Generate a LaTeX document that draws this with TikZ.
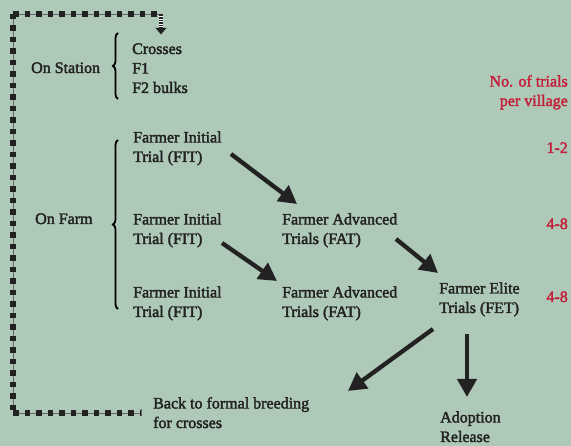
\documentclass[tikz,border=0pt]{standalone}
\usepackage{fontspec}
\setmainfont{Liberation Serif}[FakeBold=2.2]
\usetikzlibrary{arrows.meta,decorations.pathreplacing}
\definecolor{bg}{RGB}{174,201,183}
\definecolor{ink}{RGB}{34,34,34}
\definecolor{redtxt}{RGB}{196,32,60}
\begin{document}
\begin{tikzpicture}[x=1pt,y=-1pt,
  lbl/.style={inner sep=0pt, anchor=base west, align=left, text=ink, font=\fontsize{16}{19.5}\selectfont},
  num/.style={inner sep=0pt, anchor=base east, align=right, text=redtxt, font=\fontsize{16}{19.5}\selectfont},
  bigarrow/.style={line width=4.3pt, draw=ink, -{Triangle[length=18pt,width=19pt]}},
  bracestyle/.style={draw=black, line width=1.8pt, decorate, decoration={brace,amplitude=5pt}},
  feedback/.style={draw=ink, line width=5.5pt, dash pattern=on 5.5pt off 6pt},
  thinline/.style={draw=gray!80!black, line width=0.8pt}]
\fill[bg] (0,0) rectangle (571,446);
\useasboundingbox (0,0) rectangle (571,446);

% text nodes (anchored at the baseline of the last line)
\node[lbl] (onst) at (31,73) {On Station};
\node[lbl] (cross) at (132,93) {Crosses\\F1\\F2 bulks};
\node[lbl] (onfarm) at (35,224) {On Farm};
\node[lbl] (fit1) at (133,162) {Farmer Initial\\Trial (FIT)};
\node[lbl] (fit2) at (133,244) {Farmer Initial\\Trial (FIT)};
\node[lbl] (fit3) at (133,317) {Farmer Initial\\Trial (FIT)};
\node[lbl] (fat1) at (282,244) {Farmer Advanced\\Trials (FAT)};
\node[lbl] (fat2) at (282,317) {Farmer Advanced\\Trials (FAT)};
\node[lbl] (fet) at (439,313) {Farmer Elite\\Trials (FET)};
\node[lbl] (back) at (153,428) {Back to formal breeding\\for crosses};
\node[lbl] (adopt) at (440,442) {Adoption\\Release};

\node[num] (hdr) at (568,106) {No. of trials\\per village};
\node[num] (n1) at (568,153) {1-2};
\node[num] (n2) at (568,229) {4-8};
\node[num] (n3) at (568,302) {4-8};

% braces
\draw[bracestyle] (118,99) -- (118,33);
\draw[bracestyle] (118,309) -- (118,140);

% arrows
\coordinate (a1s) at (231,154); \coordinate (a1e) at (297,204);
\coordinate (a2s) at (222,243); \coordinate (a2e) at (277,281);
\coordinate (a3s) at (396,239); \coordinate (a3e) at (438,273);
\coordinate (a4s) at (433,329); \coordinate (a4e) at (348,391);
\coordinate (a5s) at (467,334); \coordinate (a5e) at (467,397);
\draw[bigarrow] (a1s) -- (a1e);
\draw[bigarrow] (a2s) -- (a2e);
\draw[bigarrow] (a3s) -- (a3e);
\draw[bigarrow] (a4s) -- (a4e);
\draw[bigarrow] (a5s) -- (a5e);

% feedback loop
\coordinate (fbA) at (161,14);
\coordinate (fbB) at (13,14);
\coordinate (fbC) at (13,413);
\coordinate (fbD) at (141,413);
\draw[thinline] (fbA) -- (fbB) -- (fbC) -- (fbD);
\draw[feedback] (fbB) -- (fbC);
\draw[feedback] (fbB) -- (fbA);
\draw[feedback] (fbC) -- (fbD);
\draw[thinline] (141,409.5) -- (141,416.5);
% striped arrow down
\draw[ink, line width=4pt] (161,14) -- (161,29);
\draw[white, line width=4.2pt, dash pattern=on 1pt off 1.6pt] (161,16) -- (161,29);
\coordinate (tipc) at (161,34.5);
\fill[ink] (155.5,28) -- (166.5,28) -- (tipc) -- cycle;
\end{tikzpicture}
\end{document}
